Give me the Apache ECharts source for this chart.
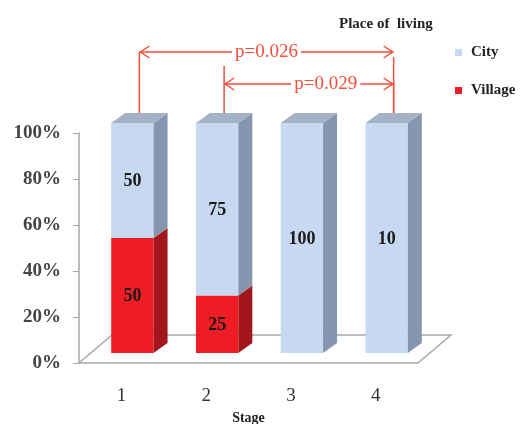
<!DOCTYPE html>
<html>
<head>
<meta charset="utf-8">
<style>
  html, body { margin: 0; padding: 0; background: #fff; }
  #chart { width: 523px; height: 424px; }
</style>
<script src="https://cdn.jsdelivr.net/npm/echarts@6/dist/echarts.min.js"></script>
</head>
<body>
<div id="chart"></div>
<script>
// data (percent of each stage)
var stages = ['1', '2', '3', '4'];
var village = [50, 25, 0, 0];
var city = [50, 75, 100, 100];
var villageLabels = ['50', '25', '', ''];
var cityLabels = ['50', '75', '100', '10'];
var yTicks = [0, 20, 40, 60, 80, 100];

// p-value brackets: [from stage, to stage, text]
var brackets = [
    ['1', '4', 'p=0.026'],
    ['2', '4', 'p=0.029']
];

var SERIF = '"Liberation Serif", "Times New Roman", serif';
var GRID = { left: 79, top: 133, width: 339, height: 230 };
// fake 3d offsets
var OX = 11, OY = -10, DX = 14, DY = 10;
var FX = 33, FY = 28;

var chart = echarts.init(document.getElementById('chart'));

function barRenderer(colors, labels, isTop) {
    return function (params, api) {
        var i = api.value(0), s = api.value(1), e = api.value(2);
        if (e - s <= 0) return;
        var pb = api.coord([i, s]);
        var pt = api.coord([i, e]);
        var w = api.size([1, 0])[0] * 0.5;
        var x0 = pb[0] - w / 2 + OX;
        var yb = pb[1] + OY;
        var yt = pt[1] + OY;
        var kids = [{
            type: 'rect',
            shape: { x: x0, y: yt, width: w, height: yb - yt },
            style: { fill: colors[0] }
        }, {
            type: 'polygon',
            shape: { points: [[x0 + w, yt], [x0 + w + DX, yt - DY], [x0 + w + DX, yb - DY], [x0 + w, yb]] },
            style: { fill: colors[1] }
        }];
        if (isTop) {
            kids.push({
                type: 'polygon',
                shape: { points: [[x0, yt], [x0 + DX, yt - DY], [x0 + w + DX, yt - DY], [x0 + w, yt]] },
                style: { fill: colors[2] }
            });
        }
        kids.push({
            type: 'text',
            style: {
                x: x0 + w / 2, y: (yt + yb) / 2 + 1,
                text: labels[params.dataIndex],
                align: 'center', verticalAlign: 'middle',
                font: 'bold 18px ' + SERIF, fill: '#1a1a1a'
            }
        });
        return { type: 'group', children: kids };
    };
}

var villageData = stages.map(function (s, i) { return [i, 0, village[i]]; });
var cityData = stages.map(function (s, i) { return [i, village[i], village[i] + city[i]]; });

var option = {
    animation: false,
    title: {
        text: 'Place of  living',
        left: 334, top: 12,
        textStyle: { fontFamily: SERIF, fontSize: 15, fontWeight: 'bold', color: '#222' }
    },
    legend: {
        data: ['City', 'Village'],
        orient: 'vertical',
        left: 455, top: 45,
        padding: 0,
        itemWidth: 7, itemHeight: 7,
        itemGap: 23,
        itemStyle: { borderWidth: 0 },
        icon: 'rect',
        textStyle: { fontFamily: SERIF, fontSize: 15, fontWeight: 'bold', color: '#222', padding: [0, 0, 0, 4] }
    },
    grid: Object.assign({ outerBoundsMode: 'none', containLabel: false }, GRID),
    xAxis: {
        type: 'category',
        data: stages,
        boundaryGap: true,
        name: 'Stage',
        nameLocation: 'middle',
        nameGap: 48,
        nameTextStyle: { fontFamily: SERIF, fontSize: 14, fontWeight: 'bold', color: '#222' },
        axisLine: { lineStyle: { color: '#a6a6a6', width: 1.5 } },
        axisTick: { length: 6, lineStyle: { color: '#a6a6a6' } },
        axisLabel: { margin: 24, fontFamily: SERIF, fontSize: 19, color: '#333' }
    },
    yAxis: {
        type: 'value',
        min: 0, max: 100, interval: 20,
        axisLine: { show: true, lineStyle: { color: '#a6a6a6', width: 1.5 } },
        axisTick: { show: true, length: 6, lineStyle: { color: '#a6a6a6' } },
        splitLine: { show: false },
        axisLabel: {
            margin: 18,
            fontFamily: SERIF, fontSize: 19, fontWeight: 'bold', color: '#444',
            formatter: function (v) { return yTicks.indexOf(v) >= 0 ? v + '%' : ''; }
        }
    },
    series: [{
        type: 'custom',
        name: 'Village',
        itemStyle: { color: '#ee1c24' },
        renderItem: barRenderer(['#ee1c24', '#a3161c', '#c41820'], villageLabels, false),
        encode: { x: 0, y: [1, 2] },
        data: villageData
    }, {
        type: 'custom',
        name: 'City',
        itemStyle: { color: '#c6d9f0' },
        renderItem: barRenderer(['#c6d9f0', '#8496b0', '#a3b2c4'], cityLabels, true),
        encode: { x: 0, y: [1, 2] },
        data: cityData
    }]
};

chart.setOption(option);

// floor + brackets drawn on top of the axes
var RED = '#f0503c';
var bx0 = GRID.left, bx1 = GRID.left + GRID.width, by = GRID.top + GRID.height;
var graphics = [{
    type: 'polyline',
    z: 0,
    shape: { points: [[bx0, by], [bx0 + FX, by - FY], [bx1 + FX, by - FY], [bx1, by]] },
    style: { stroke: '#a6a6a6', lineWidth: 1.5, fill: null }
}];

function topOf(stage) {
    var p = chart.convertToPixel({ gridIndex: 0 }, [stage, 100]);
    return [p[0] + OX + DX / 2, p[1] + OY - DY];
}

var lift = [61, 29];
var textPos = [0.5, 0.6];
brackets.forEach(function (b, k) {
    var a = topOf(b[0]), c = topOf(b[1]);
    var y = a[1] - lift[k];
    var line = function (pts) {
        graphics.push({
            type: 'polyline', z: 10,
            shape: { points: pts },
            style: { stroke: RED, lineWidth: 1.5, fill: null }
        });
    };
    line([[a[0], a[1]], [a[0], y - (k === 0 ? 0 : 18)]]);
    line([[c[0], a[1]], [c[0], y + (k === 0 ? 5 : -2)]]);
    line([[a[0], y], [c[0], y]]);
    line([[a[0] + 10, y - 6], [a[0] + 1, y], [a[0] + 10, y + 6]]);
    line([[c[0] - 10, y - 6], [c[0] - 1, y], [c[0] - 10, y + 6]]);
    graphics.push({
        type: 'text', z: 11,
        style: {
            x: a[0] + (c[0] - a[0]) * textPos[k], y: y,
            text: b[2],
            align: 'center', verticalAlign: 'middle',
            font: '19px ' + SERIF, fill: RED,
            backgroundColor: '#fff', padding: [0, 3]
        }
    });
});

chart.setOption({ graphic: graphics });
</script>
</body>
</html>
